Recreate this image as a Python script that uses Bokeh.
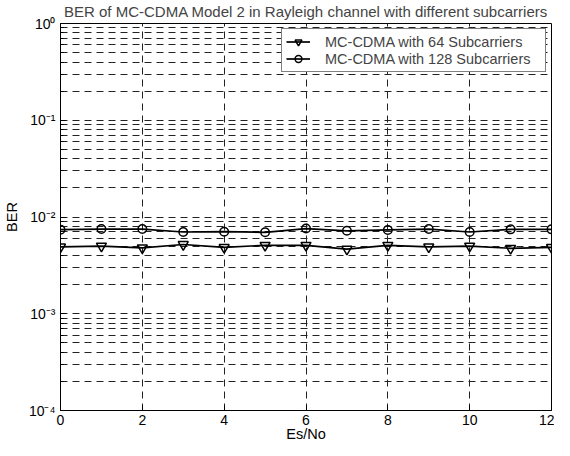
from bokeh.plotting import figure
from bokeh.models import FixedTicker, CustomJSTickFormatter, Legend, LegendItem
from bokeh.embed import file_html
from bokeh.resources import INLINE

# ---- data ----
es_no = [0, 1, 2, 3, 4, 5, 6, 7, 8, 9, 10, 11, 12]
ber_64 = [4.9e-3, 5.0e-3, 4.8e-3, 5.2e-3, 4.85e-3, 5.1e-3, 5.1e-3, 4.65e-3, 5.1e-3, 4.9e-3, 5.0e-3, 4.75e-3, 4.85e-3]
ber_128 = [7.4e-3, 7.5e-3, 7.5e-3, 7.0e-3, 7.05e-3, 6.95e-3, 7.6e-3, 7.2e-3, 7.35e-3, 7.5e-3, 7.0e-3, 7.45e-3, 7.45e-3]
x_ticks = [0, 2, 4, 6, 8, 10, 12]
y_ticks = [1e-4, 1e-3, 1e-2, 1e-1, 1e0]
y_minor = [m * d for d in [1e-4, 1e-3, 1e-2, 1e-1] for m in range(2, 10)]
title_text = "BER of MC-CDMA Model 2 in Rayleigh channel with different subcarriers"
label_64 = "MC-CDMA with 64 Subcarriers"
label_128 = "MC-CDMA with 128 Subcarriers"

FONT = "Liberation Sans"

p = figure(frame_width=491, frame_height=387,
           x_range=(0, 12), y_range=(1e-4, 1), y_axis_type="log",
           output_backend="svg", toolbar_location=None,
           min_border_left=60, min_border_right=3, min_border_top=23, min_border_bottom=0)

p.title.text = title_text
p.title.text_font = FONT
p.title.text_font_size = "15px"
p.title.text_font_style = "normal"
p.title.align = "center"
p.title.vertical_align = "top"
p.title.standoff = 3

p.outline_line_color = "black"
p.outline_line_width = 1
p.background_fill_color = "white"
p.border_fill_color = "white"

# axes
p.xaxis.ticker = FixedTicker(ticks=x_ticks)
p.yaxis.ticker = FixedTicker(ticks=y_ticks, minor_ticks=y_minor)
p.yaxis.formatter = CustomJSTickFormatter(code="""
const sup = {'-':'\u207b','0':'\u2070','1':'\u00b9','2':'\u00b2','3':'\u00b3','4':'\u2074','5':'\u2075','6':'\u2076','7':'\u2077','8':'\u2078','9':'\u2079'};
const e = Math.round(Math.log10(tick));
return '10' + String(e).split('').map(c => sup[c]).join('');
""")
for ax in (p.xaxis[0], p.yaxis[0]):
    ax.axis_line_color = "black"
    ax.major_tick_in = 5
    ax.major_tick_out = 0
    ax.minor_tick_in = 3
    ax.minor_tick_out = 0
    ax.major_tick_line_color = "black"
    ax.minor_tick_line_color = "black"
    ax.major_label_text_font = FONT
    ax.major_label_text_font_size = "14px"
    ax.major_label_text_color = "black"
    ax.axis_label_text_font = FONT
    ax.axis_label_text_font_size = "14.5px"
    ax.axis_label_text_font_style = "normal"
    ax.axis_label_text_color = "black"
p.xaxis.minor_tick_line_color = None
p.xaxis.major_label_standoff = 4
p.xaxis.axis_label_standoff = -2
p.yaxis.major_label_standoff = 5
p.yaxis.axis_label_standoff = 6
p.xaxis.axis_label = "Es/No"
p.yaxis.axis_label = "BER"

# grids
p.xgrid.grid_line_color = "#222222"
p.xgrid.grid_line_dash = "7 5"
p.xgrid.grid_line_width = 1
p.ygrid.grid_line_color = "#222222"
p.ygrid.grid_line_dash = "7 5"
p.ygrid.minor_grid_line_color = "#222222"
p.ygrid.minor_grid_line_dash = "7 5"

# series
l64 = p.line(es_no, ber_64, line_color="black", line_width=1.7)
m64 = p.scatter(es_no, ber_64, marker="inverted_triangle", size=10,
                line_color="black", line_width=1.5, fill_color=None)
l128 = p.line(es_no, ber_128, line_color="black", line_width=1.7)
m128 = p.scatter(es_no, ber_128, marker="circle", size=8.5,
                 line_color="black", line_width=1.5, fill_color=None)

legend = Legend(items=[LegendItem(label=label_64, renderers=[l64, m64]),
                       LegendItem(label=label_128, renderers=[l128, m128])],
                location="top_right")
legend.label_text_font = FONT
legend.label_text_font_size = "14.5px"
legend.border_line_color = "black"
legend.border_line_width = 1
legend.background_fill_alpha = 1
legend.margin = 5
legend.padding = 4
legend.spacing = 0
legend.glyph_width = 24
legend.label_standoff = 15
legend.label_width = 216
legend.label_height = 17
legend.glyph_height = 17
p.add_layout(legend)

open("out.html", "w").write(file_html(p, INLINE))
